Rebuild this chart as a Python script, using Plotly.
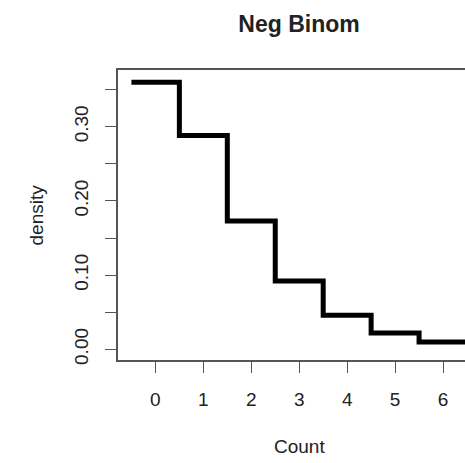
import numpy as np
import plotly.graph_objects as go

# Data
counts = [0, 1, 2, 3, 4, 5, 6]
density = [0.360, 0.288, 0.173, 0.092, 0.046, 0.022, 0.010]

x_ticks = [0, 1, 2, 3, 4, 5, 6]
x_tick_labels = ["0", "1", "2", "3", "4", "5", "6"]
y_ticks = [0.00, 0.05, 0.10, 0.15, 0.20, 0.25, 0.30, 0.35]
y_tick_labels = ["0.00", "", "0.10", "", "0.20", "", "0.30", ""]

title_text = "Neg Binom"
x_label = "Count"
y_label = "density"

# step outline: each count spans [c-0.5, c+0.5]
c = np.array(counts, dtype=float)
d = np.array(density, dtype=float)
xs = np.column_stack([c - 0.5, c + 0.5]).ravel()
ys = np.column_stack([d, d]).ravel()

FONT = "Liberation Sans, Arial, Helvetica, sans-serif"
TXT = "#222222"
AX = "#555555"

W, H = 465, 463
ML, MR, MT, MB = 118, 0, 70, 103
pw = W - ML - MR
cx = (299 - ML) / pw

fig = go.Figure()
fig.add_trace(go.Scatter(
    x=xs, y=ys, mode="lines",
    line=dict(color="black", width=5, shape="linear"),
    hoverinfo="skip", showlegend=False,
))

fig.update_layout(
    width=W, height=H,
    margin=dict(l=ML, r=MR, t=MT, b=MB, pad=0),
    paper_bgcolor="white", plot_bgcolor="white",
    font=dict(family=FONT, size=19, color=TXT),
    showlegend=False,
    title=dict(text="<b>" + title_text + "</b>", x=cx, xref="paper", xanchor="center",
               y=1 - 24 / H, yref="container", yanchor="middle",
               font=dict(family=FONT, size=23, color=TXT)),
    xaxis=dict(
        range=[-0.78, 6.458], tickmode="array", tickvals=x_ticks, ticktext=x_tick_labels,
        ticks="outside", ticklen=11, tickwidth=1.2, tickcolor=AX,
        showline=True, linecolor=AX, linewidth=1.5, mirror=True,
        showgrid=False, zeroline=False, fixedrange=True,
        tickfont=dict(family=FONT, size=19, color=TXT),
        ticklabelstandoff=10,
    ),
    yaxis=dict(
        range=[-0.0144, 0.3764], tickmode="array", tickvals=y_ticks, ticktext=y_tick_labels,
        ticks="outside", ticklen=11, tickwidth=1.2, tickcolor=AX, tickangle=-90,
        showline=True, linecolor=AX, linewidth=1.5, mirror=False,
        showgrid=False, zeroline=False, fixedrange=True,
        tickfont=dict(family=FONT, size=19, color=TXT),
        ticklabelstandoff=10,
    ),
    annotations=[
        dict(text=x_label, xref="paper", yref="paper", x=cx, y=0, yshift=-(446 - 360),
             xanchor="center", yanchor="middle", showarrow=False,
             font=dict(family=FONT, size=19, color=TXT)),
        dict(text=y_label, xref="paper", yref="paper", x=0, xshift=-(117.5 - 35), y=0.5,
             xanchor="center", yanchor="middle", textangle=-90, showarrow=False,
             font=dict(family=FONT, size=19, color=TXT)),
    ],
)

fig.write_html("out.html", config={"displayModeBar": False})
